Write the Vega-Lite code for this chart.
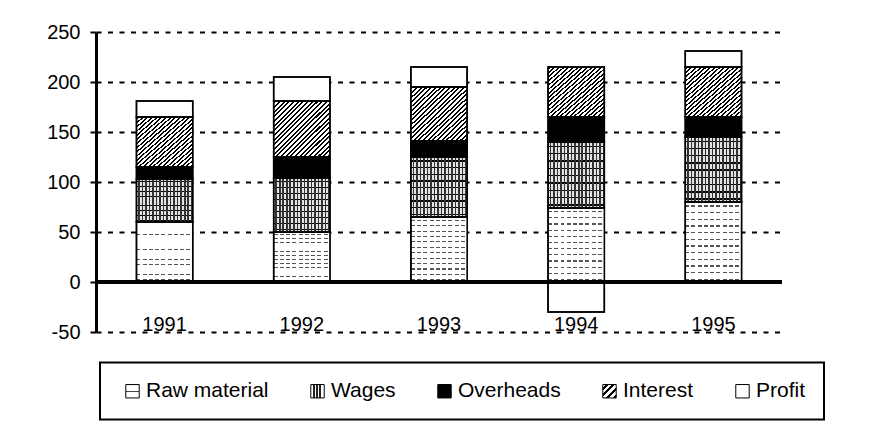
{
  "$schema": "https://vega.github.io/schema/vega-lite/v6.json",
  "width": 686,
  "height": 300,
  "autosize": {"type": "none"},
  "padding": {"left": 96, "top": 32, "right": 91, "bottom": 89},
  "background": "white",
  "config": {"font": "Liberation Sans", "view": {"stroke": null}},
  "data": {
    "values": [
      {"year": "1991", "cost": "Raw material", "value": 60},
      {"year": "1991", "cost": "Wages", "value": 43},
      {"year": "1991", "cost": "Overheads", "value": 12},
      {"year": "1991", "cost": "Interest", "value": 50},
      {"year": "1991", "cost": "Profit", "value": 16},
      {"year": "1992", "cost": "Raw material", "value": 50},
      {"year": "1992", "cost": "Wages", "value": 54},
      {"year": "1992", "cost": "Overheads", "value": 21},
      {"year": "1992", "cost": "Interest", "value": 56},
      {"year": "1992", "cost": "Profit", "value": 24},
      {"year": "1993", "cost": "Raw material", "value": 65},
      {"year": "1993", "cost": "Wages", "value": 60},
      {"year": "1993", "cost": "Overheads", "value": 16},
      {"year": "1993", "cost": "Interest", "value": 54},
      {"year": "1993", "cost": "Profit", "value": 20},
      {"year": "1994", "cost": "Raw material", "value": 74},
      {"year": "1994", "cost": "Wages", "value": 66},
      {"year": "1994", "cost": "Overheads", "value": 25},
      {"year": "1994", "cost": "Interest", "value": 50},
      {"year": "1994", "cost": "Profit", "value": -30},
      {"year": "1995", "cost": "Raw material", "value": 80},
      {"year": "1995", "cost": "Wages", "value": 65},
      {"year": "1995", "cost": "Overheads", "value": 20},
      {"year": "1995", "cost": "Interest", "value": 50},
      {"year": "1995", "cost": "Profit", "value": 16}
    ]
  },
  "transform": [
    {"calculate": "indexof(['Raw material','Wages','Overheads','Interest','Profit'], datum.cost)", "as": "idx"},
    {"stack": "value", "groupby": ["year"], "sort": [{"field": "idx", "order": "ascending"}], "as": ["v0", "v1"]}
  ],
  "layer": [
    {
      "mark": {"type": "bar", "strokeWidth": 1.5},
      "encoding": {
        "x": {
          "field": "year", "type": "nominal",
          "scale": {"paddingInner": 0.59, "paddingOuter": 0.295},
          "axis": {"title": null, "domain": false, "ticks": false, "tickSize": 0, "grid": false, "labelAngle": 0, "labelFontSize": 20, "labelColor": "black", "labelFont": "Liberation Sans", "labelPadding": -2, "labelBaseline": "alphabetic"}
        },
        "y": {
          "field": "v0", "type": "quantitative",
          "scale": {"domain": [-50, 250], "nice": false, "zero": false},
          "axis": {"title": null, "values": [-50, 0, 50, 100, 150, 200, 250], "labelExpr": "'' + datum.value", "grid": true, "gridColor": "black", "gridDash": [5, 6.5], "gridWidth": 2, "gridOpacity": 1, "domain": true, "domainColor": "black", "domainWidth": 3, "ticks": true, "tickColor": "black", "tickSize": 6, "tickWidth": 2, "labelFontSize": 20, "labelColor": "black", "labelFont": "Liberation Sans", "labelPadding": 10}
        },
        "y2": {"field": "v1"},
        "fill": {
          "condition": [
            {"test": "datum.cost === 'Raw material'", "value": {"gradient": "linear", "x1": 0, "y1": 0, "x2": 0, "y2": 1, "stops": [
              {"offset": 0, "color": "#fff"},
              {"offset": 0.042, "color": "#fff"}, {"offset": 0.042, "color": "#555"}, {"offset": 0.058, "color": "#555"}, {"offset": 0.058, "color": "#fff"},
              {"offset": 0.125, "color": "#fff"}, {"offset": 0.125, "color": "#555"}, {"offset": 0.141, "color": "#555"}, {"offset": 0.141, "color": "#fff"},
              {"offset": 0.208, "color": "#fff"}, {"offset": 0.208, "color": "#555"}, {"offset": 0.224, "color": "#555"}, {"offset": 0.224, "color": "#fff"},
              {"offset": 0.292, "color": "#fff"}, {"offset": 0.292, "color": "#555"}, {"offset": 0.308, "color": "#555"}, {"offset": 0.308, "color": "#fff"},
              {"offset": 0.375, "color": "#fff"}, {"offset": 0.375, "color": "#555"}, {"offset": 0.391, "color": "#555"}, {"offset": 0.391, "color": "#fff"},
              {"offset": 0.458, "color": "#fff"}, {"offset": 0.458, "color": "#555"}, {"offset": 0.474, "color": "#555"}, {"offset": 0.474, "color": "#fff"},
              {"offset": 0.542, "color": "#fff"}, {"offset": 0.542, "color": "#555"}, {"offset": 0.558, "color": "#555"}, {"offset": 0.558, "color": "#fff"},
              {"offset": 0.625, "color": "#fff"}, {"offset": 0.625, "color": "#555"}, {"offset": 0.641, "color": "#555"}, {"offset": 0.641, "color": "#fff"},
              {"offset": 0.708, "color": "#fff"}, {"offset": 0.708, "color": "#555"}, {"offset": 0.724, "color": "#555"}, {"offset": 0.724, "color": "#fff"},
              {"offset": 0.792, "color": "#fff"}, {"offset": 0.792, "color": "#555"}, {"offset": 0.808, "color": "#555"}, {"offset": 0.808, "color": "#fff"},
              {"offset": 0.875, "color": "#fff"}, {"offset": 0.875, "color": "#555"}, {"offset": 0.891, "color": "#555"}, {"offset": 0.891, "color": "#fff"},
              {"offset": 0.958, "color": "#fff"}, {"offset": 0.958, "color": "#555"}, {"offset": 0.974, "color": "#555"}, {"offset": 0.974, "color": "#fff"},
              {"offset": 1, "color": "#fff"}
            ]}},
            {"test": "datum.cost === 'Wages'", "value": {"gradient": "linear", "x1": 0, "y1": 0, "x2": 0, "y2": 1, "stops": [
              {"offset": 0, "color": "#e4e4e4"},
              {"offset": 0.056, "color": "#e4e4e4"}, {"offset": 0.056, "color": "#000"}, {"offset": 0.078, "color": "#000"}, {"offset": 0.078, "color": "#e4e4e4"},
              {"offset": 0.167, "color": "#e4e4e4"}, {"offset": 0.167, "color": "#000"}, {"offset": 0.189, "color": "#000"}, {"offset": 0.189, "color": "#e4e4e4"},
              {"offset": 0.278, "color": "#e4e4e4"}, {"offset": 0.278, "color": "#000"}, {"offset": 0.3, "color": "#000"}, {"offset": 0.3, "color": "#e4e4e4"},
              {"offset": 0.389, "color": "#e4e4e4"}, {"offset": 0.389, "color": "#000"}, {"offset": 0.411, "color": "#000"}, {"offset": 0.411, "color": "#e4e4e4"},
              {"offset": 0.5, "color": "#e4e4e4"}, {"offset": 0.5, "color": "#000"}, {"offset": 0.522, "color": "#000"}, {"offset": 0.522, "color": "#e4e4e4"},
              {"offset": 0.611, "color": "#e4e4e4"}, {"offset": 0.611, "color": "#000"}, {"offset": 0.633, "color": "#000"}, {"offset": 0.633, "color": "#e4e4e4"},
              {"offset": 0.722, "color": "#e4e4e4"}, {"offset": 0.722, "color": "#000"}, {"offset": 0.744, "color": "#000"}, {"offset": 0.744, "color": "#e4e4e4"},
              {"offset": 0.833, "color": "#e4e4e4"}, {"offset": 0.833, "color": "#000"}, {"offset": 0.855, "color": "#000"}, {"offset": 0.855, "color": "#e4e4e4"},
              {"offset": 0.944, "color": "#e4e4e4"}, {"offset": 0.944, "color": "#000"}, {"offset": 0.966, "color": "#000"}, {"offset": 0.966, "color": "#e4e4e4"},
              {"offset": 1, "color": "#e4e4e4"}
            ]}},
            {"test": "datum.cost === 'Interest'", "value": {"gradient": "linear", "x1": 0, "y1": 0, "x2": 1, "y2": 1, "stops": [
              {"offset": 0, "color": "#fff"},
              {"offset": 0.010, "color": "#fff"}, {"offset": 0.010, "color": "#000"}, {"offset": 0.028, "color": "#000"}, {"offset": 0.028, "color": "#fff"},
              {"offset": 0.052, "color": "#fff"}, {"offset": 0.052, "color": "#000"}, {"offset": 0.070, "color": "#000"}, {"offset": 0.070, "color": "#fff"},
              {"offset": 0.093, "color": "#fff"}, {"offset": 0.093, "color": "#000"}, {"offset": 0.111, "color": "#000"}, {"offset": 0.111, "color": "#fff"},
              {"offset": 0.135, "color": "#fff"}, {"offset": 0.135, "color": "#000"}, {"offset": 0.153, "color": "#000"}, {"offset": 0.153, "color": "#fff"},
              {"offset": 0.177, "color": "#fff"}, {"offset": 0.177, "color": "#000"}, {"offset": 0.195, "color": "#000"}, {"offset": 0.195, "color": "#fff"},
              {"offset": 0.218, "color": "#fff"}, {"offset": 0.218, "color": "#000"}, {"offset": 0.236, "color": "#000"}, {"offset": 0.236, "color": "#fff"},
              {"offset": 0.260, "color": "#fff"}, {"offset": 0.260, "color": "#000"}, {"offset": 0.278, "color": "#000"}, {"offset": 0.278, "color": "#fff"},
              {"offset": 0.302, "color": "#fff"}, {"offset": 0.302, "color": "#000"}, {"offset": 0.320, "color": "#000"}, {"offset": 0.320, "color": "#fff"},
              {"offset": 0.343, "color": "#fff"}, {"offset": 0.343, "color": "#000"}, {"offset": 0.361, "color": "#000"}, {"offset": 0.361, "color": "#fff"},
              {"offset": 0.385, "color": "#fff"}, {"offset": 0.385, "color": "#000"}, {"offset": 0.403, "color": "#000"}, {"offset": 0.403, "color": "#fff"},
              {"offset": 0.427, "color": "#fff"}, {"offset": 0.427, "color": "#000"}, {"offset": 0.445, "color": "#000"}, {"offset": 0.445, "color": "#fff"},
              {"offset": 0.468, "color": "#fff"}, {"offset": 0.468, "color": "#000"}, {"offset": 0.486, "color": "#000"}, {"offset": 0.486, "color": "#fff"},
              {"offset": 0.510, "color": "#fff"}, {"offset": 0.510, "color": "#000"}, {"offset": 0.528, "color": "#000"}, {"offset": 0.528, "color": "#fff"},
              {"offset": 0.552, "color": "#fff"}, {"offset": 0.552, "color": "#000"}, {"offset": 0.570, "color": "#000"}, {"offset": 0.570, "color": "#fff"},
              {"offset": 0.593, "color": "#fff"}, {"offset": 0.593, "color": "#000"}, {"offset": 0.611, "color": "#000"}, {"offset": 0.611, "color": "#fff"},
              {"offset": 0.635, "color": "#fff"}, {"offset": 0.635, "color": "#000"}, {"offset": 0.653, "color": "#000"}, {"offset": 0.653, "color": "#fff"},
              {"offset": 0.677, "color": "#fff"}, {"offset": 0.677, "color": "#000"}, {"offset": 0.695, "color": "#000"}, {"offset": 0.695, "color": "#fff"},
              {"offset": 0.718, "color": "#fff"}, {"offset": 0.718, "color": "#000"}, {"offset": 0.736, "color": "#000"}, {"offset": 0.736, "color": "#fff"},
              {"offset": 0.760, "color": "#fff"}, {"offset": 0.760, "color": "#000"}, {"offset": 0.778, "color": "#000"}, {"offset": 0.778, "color": "#fff"},
              {"offset": 0.802, "color": "#fff"}, {"offset": 0.802, "color": "#000"}, {"offset": 0.820, "color": "#000"}, {"offset": 0.820, "color": "#fff"},
              {"offset": 0.843, "color": "#fff"}, {"offset": 0.843, "color": "#000"}, {"offset": 0.861, "color": "#000"}, {"offset": 0.861, "color": "#fff"},
              {"offset": 0.885, "color": "#fff"}, {"offset": 0.885, "color": "#000"}, {"offset": 0.903, "color": "#000"}, {"offset": 0.903, "color": "#fff"},
              {"offset": 0.927, "color": "#fff"}, {"offset": 0.927, "color": "#000"}, {"offset": 0.945, "color": "#000"}, {"offset": 0.945, "color": "#fff"},
              {"offset": 0.968, "color": "#fff"}, {"offset": 0.968, "color": "#000"}, {"offset": 0.986, "color": "#000"}, {"offset": 0.986, "color": "#fff"},
              {"offset": 1, "color": "#fff"}
            ]}},
            {"test": "datum.cost === 'Overheads'", "value": "#000"}
          ],
          "value": "#fff"
        },
        "stroke": {
          "field": "cost", "type": "nominal",
          "scale": {"domain": ["Raw material", "Wages", "Overheads", "Interest", "Profit"], "range": ["#000000", "#000000", "#000000", "#000000", "#000000"]},
          "legend": {
            "title": null,
            "orient": "none",
            "legendX": 4,
            "legendY": 330.5,
            "direction": "horizontal",
            "columns": 5,
            "gridAlign": "each",
            "padding": 18,
            "strokeColor": "black",
            "labelFontSize": 21,
            "labelColor": "black",
            "labelFont": "Liberation Sans",
            "labelOffset": 3,
            "columnPadding": 34,
            "symbolOffset": 4,
            "symbolType": "square",
            "symbolSize": 180,
            "symbolStrokeWidth": 1,
            "encoding": {
              "legend": {"strokeWidth": {"value": 2}},
              "symbols": {
                "strokeWidth": {"value": 1},
                "fill": {
                  "condition": [
                    {"test": "datum.value === 'Raw material'", "value": {"gradient": "linear", "x1": 0, "y1": 0, "x2": 0, "y2": 1, "stops": [
                      {"offset": 0, "color": "#fff"}, {"offset": 0.45, "color": "#fff"}, {"offset": 0.45, "color": "#444"}, {"offset": 0.56, "color": "#444"}, {"offset": 0.56, "color": "#fff"}, {"offset": 1, "color": "#fff"}
                    ]}},
                    {"test": "datum.value === 'Wages'", "value": {"gradient": "linear", "x1": 0, "y1": 0, "x2": 1, "y2": 0, "stops": [
                      {"offset": 0, "color": "#fff"},
                      {"offset": 0.2, "color": "#fff"}, {"offset": 0.2, "color": "#222"}, {"offset": 0.29, "color": "#222"}, {"offset": 0.29, "color": "#fff"},
                      {"offset": 0.42, "color": "#fff"}, {"offset": 0.42, "color": "#222"}, {"offset": 0.51, "color": "#222"}, {"offset": 0.51, "color": "#fff"},
                      {"offset": 0.64, "color": "#fff"}, {"offset": 0.64, "color": "#222"}, {"offset": 0.73, "color": "#222"}, {"offset": 0.73, "color": "#fff"},
                      {"offset": 1, "color": "#fff"}
                    ]}},
                    {"test": "datum.value === 'Interest'", "value": {"gradient": "linear", "x1": 0, "y1": 0, "x2": 1, "y2": 1, "stops": [
                      {"offset": 0, "color": "#fff"},
                      {"offset": 0.1, "color": "#fff"}, {"offset": 0.1, "color": "#000"}, {"offset": 0.22, "color": "#000"}, {"offset": 0.22, "color": "#fff"},
                      {"offset": 0.35, "color": "#fff"}, {"offset": 0.35, "color": "#000"}, {"offset": 0.47, "color": "#000"}, {"offset": 0.47, "color": "#fff"},
                      {"offset": 0.6, "color": "#fff"}, {"offset": 0.6, "color": "#000"}, {"offset": 0.72, "color": "#000"}, {"offset": 0.72, "color": "#fff"},
                      {"offset": 0.85, "color": "#fff"}, {"offset": 0.85, "color": "#000"}, {"offset": 0.97, "color": "#000"}, {"offset": 0.97, "color": "#fff"},
                      {"offset": 1, "color": "#fff"}
                    ]}},
                    {"test": "datum.value === 'Overheads'", "value": "#000"}
                  ],
                  "value": "#fff"
                }
              }
            }
          }
        }
      }
    },
    {
      "mark": {"type": "bar", "stroke": "black", "strokeWidth": 1.5},
      "encoding": {
        "x": {"field": "year", "type": "nominal"},
        "y": {"field": "v0", "type": "quantitative"},
        "y2": {"field": "v1"},
        "fill": {
          "condition": [
            {"test": "datum.cost === 'Raw material'", "value": {"gradient": "linear", "x1": 0, "y1": 0, "x2": 1, "y2": 0, "stops": [
              {"offset": 0, "color": "rgba(255,255,255,0)"},
              {"offset": 0.07, "color": "rgba(255,255,255,0)"}, {"offset": 0.07, "color": "#fff"}, {"offset": 0.11, "color": "#fff"}, {"offset": 0.11, "color": "rgba(255,255,255,0)"},
              {"offset": 0.181, "color": "rgba(255,255,255,0)"}, {"offset": 0.181, "color": "#fff"}, {"offset": 0.221, "color": "#fff"}, {"offset": 0.221, "color": "rgba(255,255,255,0)"},
              {"offset": 0.292, "color": "rgba(255,255,255,0)"}, {"offset": 0.292, "color": "#fff"}, {"offset": 0.332, "color": "#fff"}, {"offset": 0.332, "color": "rgba(255,255,255,0)"},
              {"offset": 0.403, "color": "rgba(255,255,255,0)"}, {"offset": 0.403, "color": "#fff"}, {"offset": 0.443, "color": "#fff"}, {"offset": 0.443, "color": "rgba(255,255,255,0)"},
              {"offset": 0.514, "color": "rgba(255,255,255,0)"}, {"offset": 0.514, "color": "#fff"}, {"offset": 0.554, "color": "#fff"}, {"offset": 0.554, "color": "rgba(255,255,255,0)"},
              {"offset": 0.625, "color": "rgba(255,255,255,0)"}, {"offset": 0.625, "color": "#fff"}, {"offset": 0.665, "color": "#fff"}, {"offset": 0.665, "color": "rgba(255,255,255,0)"},
              {"offset": 0.736, "color": "rgba(255,255,255,0)"}, {"offset": 0.736, "color": "#fff"}, {"offset": 0.776, "color": "#fff"}, {"offset": 0.776, "color": "rgba(255,255,255,0)"},
              {"offset": 0.847, "color": "rgba(255,255,255,0)"}, {"offset": 0.847, "color": "#fff"}, {"offset": 0.887, "color": "#fff"}, {"offset": 0.887, "color": "rgba(255,255,255,0)"},
              {"offset": 0.958, "color": "rgba(255,255,255,0)"}, {"offset": 0.958, "color": "#fff"}, {"offset": 0.998, "color": "#fff"}, {"offset": 0.998, "color": "rgba(255,255,255,0)"},
              {"offset": 1, "color": "rgba(255,255,255,0)"}
            ]}},
            {"test": "datum.cost === 'Wages'", "value": {"gradient": "linear", "x1": 0, "y1": 0, "x2": 1, "y2": 0, "stops": [
              {"offset": 0, "color": "rgba(0,0,0,0)"},
              {"offset": 0.031, "color": "rgba(0,0,0,0)"}, {"offset": 0.031, "color": "#333"}, {"offset": 0.059, "color": "#333"}, {"offset": 0.059, "color": "rgba(0,0,0,0)"},
              {"offset": 0.094, "color": "rgba(0,0,0,0)"}, {"offset": 0.094, "color": "#333"}, {"offset": 0.122, "color": "#333"}, {"offset": 0.122, "color": "rgba(0,0,0,0)"},
              {"offset": 0.156, "color": "rgba(0,0,0,0)"}, {"offset": 0.156, "color": "#333"}, {"offset": 0.184, "color": "#333"}, {"offset": 0.184, "color": "rgba(0,0,0,0)"},
              {"offset": 0.219, "color": "rgba(0,0,0,0)"}, {"offset": 0.219, "color": "#333"}, {"offset": 0.247, "color": "#333"}, {"offset": 0.247, "color": "rgba(0,0,0,0)"},
              {"offset": 0.281, "color": "rgba(0,0,0,0)"}, {"offset": 0.281, "color": "#333"}, {"offset": 0.309, "color": "#333"}, {"offset": 0.309, "color": "rgba(0,0,0,0)"},
              {"offset": 0.344, "color": "rgba(0,0,0,0)"}, {"offset": 0.344, "color": "#333"}, {"offset": 0.372, "color": "#333"}, {"offset": 0.372, "color": "rgba(0,0,0,0)"},
              {"offset": 0.406, "color": "rgba(0,0,0,0)"}, {"offset": 0.406, "color": "#333"}, {"offset": 0.434, "color": "#333"}, {"offset": 0.434, "color": "rgba(0,0,0,0)"},
              {"offset": 0.469, "color": "rgba(0,0,0,0)"}, {"offset": 0.469, "color": "#333"}, {"offset": 0.497, "color": "#333"}, {"offset": 0.497, "color": "rgba(0,0,0,0)"},
              {"offset": 0.531, "color": "rgba(0,0,0,0)"}, {"offset": 0.531, "color": "#333"}, {"offset": 0.559, "color": "#333"}, {"offset": 0.559, "color": "rgba(0,0,0,0)"},
              {"offset": 0.594, "color": "rgba(0,0,0,0)"}, {"offset": 0.594, "color": "#333"}, {"offset": 0.622, "color": "#333"}, {"offset": 0.622, "color": "rgba(0,0,0,0)"},
              {"offset": 0.656, "color": "rgba(0,0,0,0)"}, {"offset": 0.656, "color": "#333"}, {"offset": 0.684, "color": "#333"}, {"offset": 0.684, "color": "rgba(0,0,0,0)"},
              {"offset": 0.719, "color": "rgba(0,0,0,0)"}, {"offset": 0.719, "color": "#333"}, {"offset": 0.747, "color": "#333"}, {"offset": 0.747, "color": "rgba(0,0,0,0)"},
              {"offset": 0.781, "color": "rgba(0,0,0,0)"}, {"offset": 0.781, "color": "#333"}, {"offset": 0.809, "color": "#333"}, {"offset": 0.809, "color": "rgba(0,0,0,0)"},
              {"offset": 0.844, "color": "rgba(0,0,0,0)"}, {"offset": 0.844, "color": "#333"}, {"offset": 0.872, "color": "#333"}, {"offset": 0.872, "color": "rgba(0,0,0,0)"},
              {"offset": 0.906, "color": "rgba(0,0,0,0)"}, {"offset": 0.906, "color": "#333"}, {"offset": 0.934, "color": "#333"}, {"offset": 0.934, "color": "rgba(0,0,0,0)"},
              {"offset": 0.969, "color": "rgba(0,0,0,0)"}, {"offset": 0.969, "color": "#333"}, {"offset": 0.997, "color": "#333"}, {"offset": 0.997, "color": "rgba(0,0,0,0)"},
              {"offset": 1, "color": "rgba(0,0,0,0)"}
            ]}}
          ],
          "value": "transparent"
        }
      }
    },
    {
      "mark": {"type": "rule", "color": "black", "strokeWidth": 2.5},
      "encoding": {"y": {"datum": 0}}
    }
  ]
}
